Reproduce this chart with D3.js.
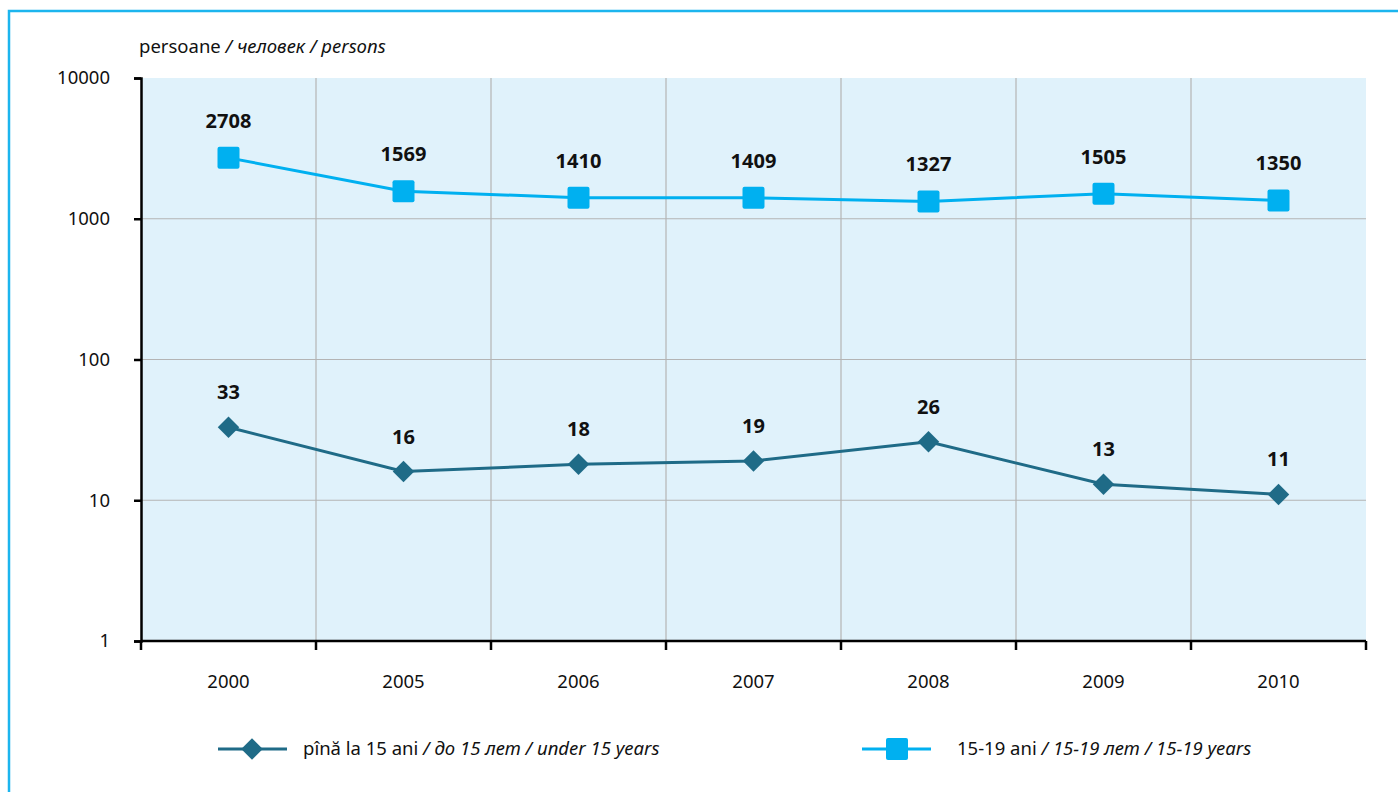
<!DOCTYPE html>
<html><head><meta charset="utf-8">
<script src="https://cdn.jsdelivr.net/npm/d3@7"></script>
<style>
html,body{margin:0;padding:0;background:#fff;}
svg{display:block;font-family:"Noto Sans","Open Sans",sans-serif;}
</style></head>
<body>
<svg id="chart" width="1398" height="792"></svg>
<script>
const years = ["2000","2005","2006","2007","2008","2009","2010"];
const under15 = [33,16,18,19,26,13,11];
const age1519 = [2708,1569,1410,1409,1327,1505,1350];
const yTicks = [1,10,100,1000,10000];
const seriesNames = [
  {plain:"pînă la 15 ani", ital:" / до 15 лет / under 15 years"},
  {plain:"15-19 ani", ital:" / 15-19 лет / 15-19 years"}
];
const unitPlain = "persoane ";
const unitItal = "/ человек / persons";

const svg = d3.select("#chart");
const W=1398,H=792;
const m={left:141,right:1366,top:78,bottom:641};
const darkC="#1f6b87", lightC="#00b0f0";
const FS=18.5;

// frame
svg.append("rect").attr("x",9).attr("y",11).attr("width",W).attr("height",H)
  .attr("fill","none").attr("stroke","#1cb5ee").attr("stroke-width",2.5);

const x = d3.scaleBand().domain(years).range([m.left,m.right]).padding(0);
const y = d3.scaleLog().domain([1,10000]).range([m.bottom,m.top]);

svg.append("rect").attr("x",m.left).attr("y",m.top).attr("width",m.right-m.left).attr("height",m.bottom-m.top)
  .attr("fill","#e0f2fb");

// grid horizontal
svg.append("g").selectAll("line").data(yTicks.slice(1,4)).join("line")
  .attr("x1",m.left).attr("x2",m.right).attr("y1",d=>y(d)).attr("y2",d=>y(d))
  .attr("stroke","#b4b4b4").attr("stroke-width",1.2);
// grid vertical at category boundaries
svg.append("g").selectAll("line").data(years.slice(1)).join("line")
  .attr("x1",d=>x(d)).attr("x2",d=>x(d)).attr("y1",m.top).attr("y2",m.bottom)
  .attr("stroke","#b4b4b4").attr("stroke-width",1.2);

// y axis
const yAxis = d3.axisLeft(y).tickValues(yTicks).tickFormat(d3.format("d")).tickSize(7).tickPadding(24);
const gy = svg.append("g").attr("transform",`translate(${m.left},0)`).call(yAxis);
gy.attr("font-size",null).attr("font-family",null);
gy.select(".domain").attr("stroke","#000").attr("stroke-width",2.5);
gy.selectAll(".tick line").attr("stroke","#000").attr("stroke-width",2.5);
gy.selectAll("text").attr("fill","#111").style("font-size",FS+"px").style("font-family","'Noto Sans',sans-serif");

// x axis
const boundaries = years.map(d=>x(d)).concat([m.right]);
svg.append("line").attr("x1",m.left).attr("x2",m.right).attr("y1",m.bottom).attr("y2",m.bottom)
  .attr("stroke","#000").attr("stroke-width",2.5);
svg.append("g").selectAll("line").data(boundaries).join("line")
  .attr("x1",d=>d).attr("x2",d=>d).attr("y1",m.bottom).attr("y2",m.bottom+9)
  .attr("stroke","#000").attr("stroke-width",2.5);
svg.append("g").selectAll("text").data(years).join("text")
  .attr("x",d=>x(d)+x.bandwidth()/2).attr("y",688).attr("text-anchor","middle")
  .attr("font-size",FS).attr("fill","#111").text(d=>d);

// unit title
const t = svg.append("text").attr("x",139).attr("y",53).attr("font-size",FS).attr("fill","#111");
t.append("tspan").text(unitPlain);
t.append("tspan").attr("font-style","italic").text(unitItal);

const cx = d=>x(d)+x.bandwidth()/2;
const line = d3.line();
const diamond = d3.symbol(d3.symbolSquare,230)();

// series 1 (under 15)
svg.append("path").datum(years.map((d,i)=>[cx(d),y(under15[i])]))
  .attr("d",line).attr("fill","none").attr("stroke",darkC).attr("stroke-width",3);
svg.append("g").selectAll("path").data(years).join("path")
  .attr("d",diamond)
  .attr("transform",(d,i)=>`translate(${cx(d)},${y(under15[i])}) rotate(45)`)
  .attr("fill",darkC);
svg.append("g").selectAll("text").data(years).join("text")
  .attr("x",d=>cx(d)).attr("y",(d,i)=>y(under15[i])-28).attr("text-anchor","middle")
  .attr("font-size",20).attr("font-weight","bold").attr("fill","#111")
  .text((d,i)=>under15[i]);

// series 2 (15-19)
svg.append("path").datum(years.map((d,i)=>[cx(d),y(age1519[i])]))
  .attr("d",line).attr("fill","none").attr("stroke",lightC).attr("stroke-width",3);
svg.append("g").selectAll("rect").data(years).join("rect")
  .attr("x",d=>cx(d)-11).attr("y",(d,i)=>y(age1519[i])-11).attr("width",22).attr("height",22).attr("rx",2)
  .attr("fill",lightC);
svg.append("g").selectAll("text").data(years).join("text")
  .attr("x",d=>cx(d)).attr("y",(d,i)=>y(age1519[i])-30).attr("text-anchor","middle")
  .attr("font-size",20).attr("font-weight","bold").attr("fill","#111")
  .text((d,i)=>age1519[i]);

// legend
const leg = [{x1:218,x2:287,mx:252,tx:303,c:darkC,type:"d",n:seriesNames[0]},
             {x1:862,x2:931,mx:897,tx:957,c:lightC,type:"s",n:seriesNames[1]}];
const ly=749;
leg.forEach(l=>{
  svg.append("line").attr("x1",l.x1).attr("x2",l.x2).attr("y1",ly).attr("y2",ly).attr("stroke",l.c).attr("stroke-width",3.2);
  if(l.type==="d"){
    svg.append("path").attr("d",diamond).attr("transform",`translate(${l.mx},${ly}) rotate(45)`).attr("fill",l.c);
  } else {
    svg.append("rect").attr("x",l.mx-11).attr("y",ly-11).attr("width",22).attr("height",22).attr("rx",2).attr("fill",l.c);
  }
  const tt = svg.append("text").attr("x",l.tx).attr("y",ly+6).attr("font-size",FS).attr("fill","#111");
  tt.append("tspan").text(l.n.plain);
  tt.append("tspan").attr("font-style","italic").text(l.n.ital);
});
</script>
</body></html>
